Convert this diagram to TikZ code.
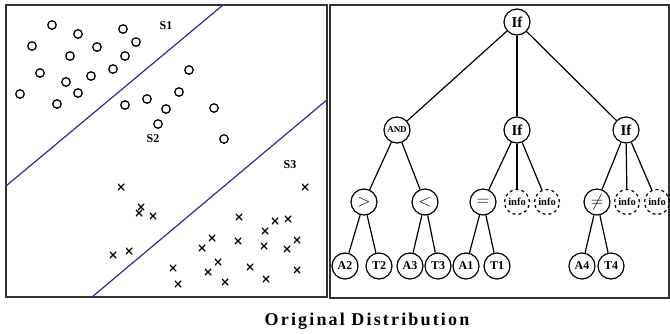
\documentclass[tikz,border=0pt]{standalone}
\usepackage{fontspec}
\setmainfont{Liberation Serif}
\begin{document}
\begin{tikzpicture}[x=1pt,y=-1pt,
  frame/.style={draw=black!80,line width=1.4pt},
  sep/.style={draw={rgb,255:red,45;green,45;blue,150},line width=1.2pt},
  dot/.style={circle,draw,line width=1.3pt,minimum size=8.5pt,inner sep=0pt},
  xmark/.style={inner sep=0pt,minimum size=6.5pt,path picture={
      \draw[line width=1.3pt] (path picture bounding box.north west)--(path picture bounding box.south east)
        (path picture bounding box.north east)--(path picture bounding box.south west);}},
  tnode/.style={circle,draw,line width=1.2pt,minimum size=26pt,inner sep=0pt,font=\bfseries\fontsize{12}{12}\selectfont},
  tif/.style={tnode,font=\bfseries\fontsize{15}{15}\selectfont},
  tinfo/.style={tnode,dashed,minimum size=25pt,font=\bfseries\fontsize{10.5}{10.5}\selectfont},
  tsym/.style={tnode,font=\fontsize{16}{16}\selectfont},
  edge/.style={line width=1.2pt},
  lab/.style={font=\bfseries\fontsize{12}{12}\selectfont}]
\useasboundingbox (0,0) rectangle (670,333);

% left panel: data points and separating lines
\draw[frame] (6,5) rectangle (327,297);
\coordinate (l1a) at (223,5);
\coordinate (l1b) at (6,186);
\coordinate (l2a) at (327,99.8);
\coordinate (l2b) at (92,297);
\draw[sep] (l1a) -- (l1b);
\draw[sep] (l2a) -- (l2b);

\foreach \p [count=\i] in {(52,25),(78,34),(123,29),(32,46),(97,47),(136,42),(70,56),(125,56),
  (40,73),(113,69),(91,76),(66,82),(78,93),(20,94),(57,104),
  (189,70),(179,92),(147,99),(125,105),(166,109),(214,108),(158,124),(224,139)}
  \node[dot] (o\i) at \p {};

\foreach \p [count=\i] in {(121,187),(141,207),(139,213),(153,216),(113,255),(129,251),
  (305,187),(239,217),(275,221),(288,219),(265,231),(212,238),(238,241),(297,240),
  (202,248),(264,246),(287,249),(218,262),(173,268),(208,272),(250,267),(297,270),
  (178,284),(225,282),(266,279)}
  \node[xmark] (x\i) at \p {};

\node[lab] (s1) at (166,26) {S1};
\node[lab] (s2) at (153,139) {S2};
\node[lab] (s3) at (290,165) {S3};

% right panel: program tree
\draw[frame] (330,5) rectangle (669,298);

\node[tif] (root) at (517,22) {If};
\node[tnode,font=\bfseries\fontsize{9}{9}\selectfont] (and) at (397,130) {AND};
\node[tif] (ifm) at (517,130) {If};
\node[tif] (ifr) at (626,130) {If};

\node[tsym] (gt) at (364,202) {$>$};
\node[tsym] (lt) at (425,202) {$<$};
\node[tsym] (eq) at (483,202) {$=$};
\node[tinfo] (im1) at (517,202) {info};
\node[tinfo] (im2) at (547,202) {info};
\node[tsym] (ne) at (597,202) {$\neq$};
\node[tinfo] (ir1) at (627,202) {info};
\node[tinfo] (ir2) at (657,202) {info};

\node[tnode] (a2) at (345,266) {A2};
\node[tnode] (t2) at (379,266) {T2};
\node[tnode] (a3) at (410,266) {A3};
\node[tnode] (t3) at (438,266) {T3};
\node[tnode] (a1) at (466,266) {A1};
\node[tnode] (t1) at (497,266) {T1};
\node[tnode] (a4) at (582,266) {A4};
\node[tnode] (t4) at (611,266) {T4};

\draw[edge] (root) -- (and);
\draw[edge] (root) -- (ifm);
\draw[edge] (root) -- (ifr);
\draw[edge] (and) -- (gt);
\draw[edge] (and) -- (lt);
\draw[edge] (ifm) -- (eq);
\draw[edge] (ifm) -- (im1);
\draw[edge] (ifm) -- (im2);
\draw[edge] (ifr) -- (ne);
\draw[edge] (ifr) -- (ir1);
\draw[edge] (ifr) -- (ir2);
\draw[edge] (gt) -- (a2);
\draw[edge] (gt) -- (t2);
\draw[edge] (lt) -- (a3);
\draw[edge] (lt) -- (t3);
\draw[edge] (eq) -- (a1);
\draw[edge] (eq) -- (t1);
\draw[edge] (ne) -- (a4);
\draw[edge] (ne) -- (t4);

\node[font=\bfseries\fontsize{18}{18}\selectfont\addfontfeatures{LetterSpace=12}] (cap) at (367,321) {Original Distribution};
\end{tikzpicture}
\end{document}
